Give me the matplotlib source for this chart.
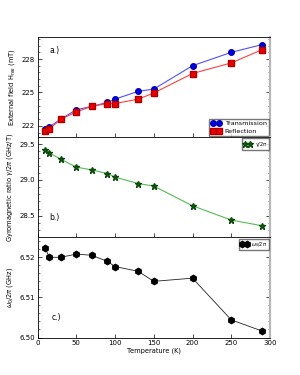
#!/usr/bin/env python3
import numpy as np
import matplotlib.pyplot as plt
from matplotlib.ticker import AutoMinorLocator

temps = [10, 15, 30, 50, 70, 90, 100, 130, 150, 200, 250, 290]
h_trans = [221.7, 221.9, 222.6, 223.45, 223.75, 224.1, 224.4, 225.1, 225.3, 227.4, 228.6, 229.3]
h_refl = [221.55, 221.7, 222.6, 223.25, 223.75, 224.0, 224.0, 224.4, 224.95, 226.7, 227.65, 228.85]
gamma = [29.42, 29.38, 29.29, 29.18, 29.14, 29.09, 29.04, 28.95, 28.915, 28.64, 28.44, 28.36]
omega0 = [6.5224, 6.5200, 6.5200, 6.5208, 6.5205, 6.5190, 6.5177, 6.5165, 6.5140, 6.5148, 6.5044, 6.5016]

FS = 4.8


def style_axis(ax):
    ax.tick_params(direction='in', labelsize=5, length=3, width=0.5, right=True, pad=2)
    ax.tick_params(which='minor', direction='in', length=1.5, width=0.4, right=True)
    ax.yaxis.set_minor_locator(AutoMinorLocator(5))
    for s in ax.spines.values():
        s.set_linewidth(0.6)
    ax.spines['right'].set_color('#b8b8b8')
    ax.spines['right'].set_linewidth(1.6)


def main():
    fig, ax = plt.subplots(3, 1, figsize=(3.0, 3.75), dpi=100, sharex=True)
    fig.subplots_adjust(left=0.125, right=0.9, top=0.902, bottom=0.1, hspace=0)

    a = ax[0]
    a.plot(temps, h_trans, '-o', color='#5050ff', mfc='#0000ee', mec='#0000aa', ms=4, lw=0.8, label='Transmission')
    a.plot(temps, h_refl, '-s', color='#ff4040', mfc='#ee0000', mec='#aa0000', ms=4, lw=0.8, label='Reflection')
    a.set_ylim(221, 230)
    a.set_yticks([222, 225, 228])
    a.set_ylabel('External field H$_{res}$ (mT)', fontsize=FS, labelpad=3)
    a.text(0.05, 0.84, 'a.)', transform=a.transAxes, fontsize=5.5)
    a.legend(loc='lower right', fontsize=4.6, numpoints=2, fancybox=False, edgecolor='#555555',
             borderpad=0.3, handlelength=1.6, handletextpad=0.6, labelspacing=0.3, borderaxespad=0.2)

    b = ax[1]
    b.plot(temps, gamma, '-*', color='#55bb55', mfc='#116611', mec='#0a4a0a', ms=5, lw=0.8, label=r'$\gamma/2\pi$')
    b.set_ylim(28.2, 29.6)
    b.set_yticks([28.5, 29.0, 29.5])
    b.set_ylabel(r'Gyromagnetic ratio $\gamma/2\pi$ (GHz/T)', fontsize=FS, labelpad=3)
    b.text(0.05, 0.17, 'b.)', transform=b.transAxes, fontsize=5.5)
    b.legend(loc='upper right', fontsize=3.5, numpoints=2, fancybox=False, edgecolor='#555555',
             borderpad=0.3, handlelength=1.6, handletextpad=0.6, borderaxespad=0.3)

    c = ax[2]
    c.plot(temps, omega0, '-h', color='#222222', mfc='black', mec='black', ms=4.5, lw=0.6, label=r'$\omega_0/2\pi$')
    c.set_ylim(6.50, 6.525)
    c.set_yticks([6.50, 6.51, 6.52])
    c.set_ylabel(r'$\omega_0/2\pi$ (GHz)', fontsize=FS, labelpad=3)
    c.text(0.06, 0.17, 'c.)', transform=c.transAxes, fontsize=5.5)
    c.legend(loc='upper right', fontsize=3.5, numpoints=2, fancybox=False, edgecolor='#555555',
             borderpad=0.3, handlelength=1.6, handletextpad=0.6, borderaxespad=0.3)
    c.set_xlim(0, 300)
    c.set_xticks([0, 50, 100, 150, 200, 250, 300])
    c.set_xlabel('Temperature (K)', fontsize=FS, labelpad=1)

    for axis in ax:
        style_axis(axis)
    c.tick_params(axis='x', which='minor', bottom=False)

    fig.savefig('out.png', dpi=100)


if __name__ == "__main__":
    main()
